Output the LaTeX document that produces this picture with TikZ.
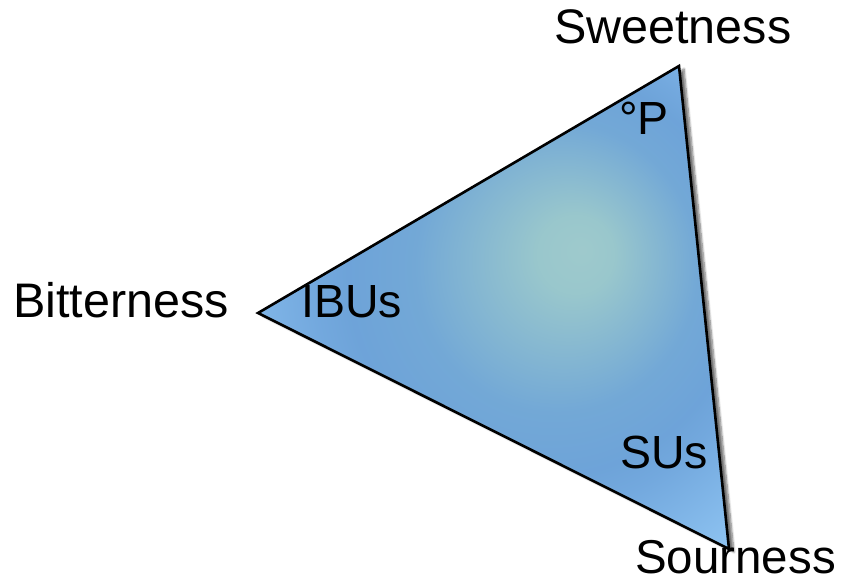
\documentclass[tikz,border=0pt]{standalone}
\usepackage{fontspec}
\setmainfont{Liberation Sans}
\usetikzlibrary{shadows.blur}
% path bounding box maps to [-25bp,25bp]
\pgfdeclareradialshading{tastes}{\pgfpoint{9.5bp}{6bp}}{%
  rgb(0bp)=(0.62,0.79,0.80);
  rgb(4bp)=(0.60,0.78,0.80);
  rgb(15bp)=(0.45,0.66,0.84);
  rgb(21bp)=(0.43,0.64,0.85);
  rgb(24bp)=(0.45,0.66,0.87);
  rgb(35bp)=(0.56,0.77,0.95);
  rgb(50bp)=(0.56,0.77,0.95)}
\tikzset{
  outer/.style={inner sep=0pt, anchor=base west, font=\fontsize{48.5}{52}\selectfont},
  inner/.style={inner sep=0pt, anchor=base west, font=\fontsize{46.5}{50}\selectfont},
  tri/.style={draw=black, line width=2.6pt, shading=tastes,
    blur shadow={shadow xshift=5pt, shadow yshift=-3pt, shadow blur steps=8, shadow opacity=55}}
}
\begin{document}
\begin{tikzpicture}[x=1pt,y=-1pt]
\useasboundingbox (0,0) rectangle (841,582);
\coordinate (top) at (679,66);
\coordinate (left) at (258,313);
\coordinate (bot) at (729,549);
\path[tri] (top) -- (left) -- (bot) -- cycle;
\node[outer] (sweet) at (554,43) {Sweetness};
\node[outer] (bitter) at (13,317) {Bitterness};
\node[outer, font=\fontsize{47.5}{50}\selectfont] (sour) at (635,573) {Sourness};
\node[inner] (plato) at (619,134) {°P};
\node[inner] (ibu) at (301,317) {IBUs};
\node[inner] (su) at (620,468) {SUs};
\end{tikzpicture}
\end{document}
